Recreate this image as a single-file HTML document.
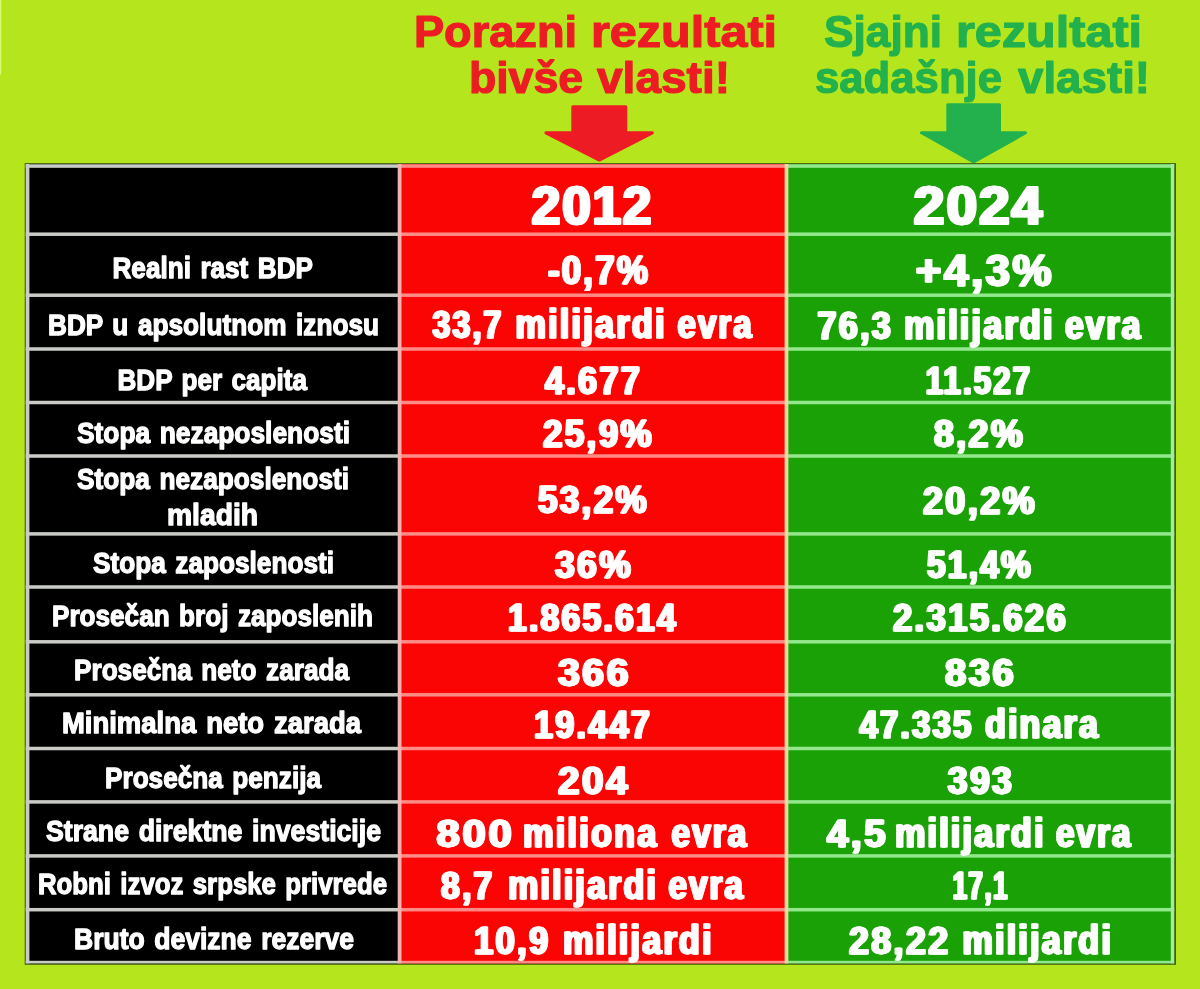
<!DOCTYPE html>
<html lang="sr">
<head>
<meta charset="utf-8">
<title>Rezultati 2012 / 2024</title>
<style>
html,body{margin:0;padding:0;background:#B5E61D;}
body{width:1200px;height:989px;overflow:hidden;}
svg{display:block;filter:blur(0.55px);}
.lbl{font-family:"Liberation Sans", sans-serif;font-weight:bold;word-spacing:2.5px;fill:#fff;stroke:#fff;stroke-width:1.3px;stroke-linejoin:round;}
.dat{font-family:"Liberation Sans", sans-serif;font-weight:bold;letter-spacing:2.6px;word-spacing:-3px;fill:#fff;stroke:#fff;stroke-width:0.8px;stroke-linejoin:round;}
.hdr{font-family:"Liberation Sans", sans-serif;font-weight:bold;letter-spacing:2px;fill:#fff;stroke:#fff;stroke-width:1.7px;stroke-linejoin:round;}
.ttl{font-family:"Liberation Sans", sans-serif;font-weight:bold;stroke-width:1.2px;stroke-linejoin:round;}
.r{fill:#ED1C24;stroke:#ED1C24;}
.g{fill:#22B14C;stroke:#22B14C;}
</style>
</head>
<body>
<svg width="1200" height="989" viewBox="0 0 1200 989">
<defs>
<filter id="fx" filterUnits="userSpaceOnUse" x="0" y="0" width="1200" height="989"><feOffset in="SourceGraphic" dx="0.7" result="a"/><feOffset in="SourceGraphic" dx="-0.7" result="b"/><feMerge><feMergeNode in="a"/><feMergeNode in="b"/><feMergeNode in="SourceGraphic"/></feMerge></filter>
<filter id="fx2" filterUnits="userSpaceOnUse" x="0" y="0" width="1200" height="989"><feOffset in="SourceGraphic" dx="0.8" result="a"/><feOffset in="SourceGraphic" dx="-0.8" result="b"/><feMerge><feMergeNode in="a"/><feMergeNode in="b"/><feMergeNode in="SourceGraphic"/></feMerge></filter>
</defs>
<rect x="0" y="0" width="1200" height="989" fill="#B5E61D"/>
<rect x="0" y="0" width="1.2" height="74.5" fill="#dcfb72"/>
<polygon points="572.8,106.8 625.8,106.8 625.8,132.8 652.4,132.8 599.3,160.1 545.9,132.8 572.8,132.8" fill="#ED1C24" stroke="#ED1C24" stroke-width="3.0" stroke-linejoin="round"/>
<polygon points="947.8,104.8 999.5,104.8 999.5,132.8 1025.6,132.8 973.6,161.9 921.5,132.8 947.8,132.8" fill="#22B14C" stroke="#22B14C" stroke-width="3.0" stroke-linejoin="round"/>
<rect x="24.7" y="163.1" width="1151.3" height="801.7" fill="#435f10"/>
<rect x="25.7" y="164.0" width="373.9" height="799.4" fill="#000"/>
<rect x="399.6" y="164.0" width="386.9" height="799.4" fill="#FB0404"/>
<rect x="786.5" y="164.0" width="387.7" height="799.4" fill="#1AA105"/>
<rect x="25.7" y="164.30" width="373.9" height="3.5" fill="#c9ccc6"/>
<rect x="399.6" y="164.30" width="386.9" height="3.5" fill="#ff8a86"/>
<rect x="786.5" y="164.30" width="387.7" height="3.5" fill="#93e78d"/>
<rect x="25.7" y="232.45" width="373.9" height="3.5" fill="#c9ccc6"/>
<rect x="399.6" y="232.45" width="386.9" height="3.5" fill="#ff8a86"/>
<rect x="786.5" y="232.45" width="387.7" height="3.5" fill="#93e78d"/>
<rect x="25.7" y="293.45" width="373.9" height="3.5" fill="#c9ccc6"/>
<rect x="399.6" y="293.45" width="386.9" height="3.5" fill="#ff8a86"/>
<rect x="786.5" y="293.45" width="387.7" height="3.5" fill="#93e78d"/>
<rect x="25.7" y="347.25" width="373.9" height="3.5" fill="#c9ccc6"/>
<rect x="399.6" y="347.25" width="386.9" height="3.5" fill="#ff8a86"/>
<rect x="786.5" y="347.25" width="387.7" height="3.5" fill="#93e78d"/>
<rect x="25.7" y="400.75" width="373.9" height="3.5" fill="#c9ccc6"/>
<rect x="399.6" y="400.75" width="386.9" height="3.5" fill="#ff8a86"/>
<rect x="786.5" y="400.75" width="387.7" height="3.5" fill="#93e78d"/>
<rect x="25.7" y="454.25" width="373.9" height="3.5" fill="#c9ccc6"/>
<rect x="399.6" y="454.25" width="386.9" height="3.5" fill="#ff8a86"/>
<rect x="786.5" y="454.25" width="387.7" height="3.5" fill="#93e78d"/>
<rect x="25.7" y="532.15" width="373.9" height="3.5" fill="#c9ccc6"/>
<rect x="399.6" y="532.15" width="386.9" height="3.5" fill="#ff8a86"/>
<rect x="786.5" y="532.15" width="387.7" height="3.5" fill="#93e78d"/>
<rect x="25.7" y="585.25" width="373.9" height="3.5" fill="#c9ccc6"/>
<rect x="399.6" y="585.25" width="386.9" height="3.5" fill="#ff8a86"/>
<rect x="786.5" y="585.25" width="387.7" height="3.5" fill="#93e78d"/>
<rect x="25.7" y="640.05" width="373.9" height="3.5" fill="#c9ccc6"/>
<rect x="399.6" y="640.05" width="386.9" height="3.5" fill="#ff8a86"/>
<rect x="786.5" y="640.05" width="387.7" height="3.5" fill="#93e78d"/>
<rect x="25.7" y="693.05" width="373.9" height="3.5" fill="#c9ccc6"/>
<rect x="399.6" y="693.05" width="386.9" height="3.5" fill="#ff8a86"/>
<rect x="786.5" y="693.05" width="387.7" height="3.5" fill="#93e78d"/>
<rect x="25.7" y="746.75" width="373.9" height="3.5" fill="#c9ccc6"/>
<rect x="399.6" y="746.75" width="386.9" height="3.5" fill="#ff8a86"/>
<rect x="786.5" y="746.75" width="387.7" height="3.5" fill="#93e78d"/>
<rect x="25.7" y="800.15" width="373.9" height="3.5" fill="#c9ccc6"/>
<rect x="399.6" y="800.15" width="386.9" height="3.5" fill="#ff8a86"/>
<rect x="786.5" y="800.15" width="387.7" height="3.5" fill="#93e78d"/>
<rect x="25.7" y="854.15" width="373.9" height="3.5" fill="#c9ccc6"/>
<rect x="399.6" y="854.15" width="386.9" height="3.5" fill="#ff8a86"/>
<rect x="786.5" y="854.15" width="387.7" height="3.5" fill="#93e78d"/>
<rect x="25.7" y="907.95" width="373.9" height="3.5" fill="#c9ccc6"/>
<rect x="399.6" y="907.95" width="386.9" height="3.5" fill="#ff8a86"/>
<rect x="786.5" y="907.95" width="387.7" height="3.5" fill="#93e78d"/>
<rect x="25.7" y="960.8" width="373.9" height="2.6" fill="#c9ccc6"/>
<rect x="399.6" y="960.8" width="386.9" height="2.6" fill="#ff8a86"/>
<rect x="786.5" y="960.8" width="387.7" height="2.6" fill="#93e78d"/>
<rect x="25.7" y="164.0" width="3.7" height="799.4" fill="#c9ccc6"/>
<rect x="397.7" y="164.0" width="3.8" height="799.4" fill="#f0b4b0"/>
<rect x="784.6" y="164.0" width="3.8" height="799.4" fill="#eed9a0"/>
<rect x="1170.8" y="164.0" width="3.4" height="799.4" fill="#a6e9a0"/>
<g>
<text class="ttl r" y="46.90" font-size="44.7"><tspan x="413.92" textLength="163.15" lengthAdjust="spacingAndGlyphs">Porazni</tspan> <tspan x="590.91" textLength="186.20" lengthAdjust="spacingAndGlyphs">rezultati</tspan></text>
<text class="ttl r" y="93.30" font-size="44.7"><tspan x="468.91" textLength="114.13" lengthAdjust="spacingAndGlyphs">bivše</tspan> <tspan x="596.98" textLength="133.13" lengthAdjust="spacingAndGlyphs">vlasti!</tspan></text>
<text class="ttl g" y="47.20" font-size="44.7"><tspan x="823.96" textLength="118.07" lengthAdjust="spacingAndGlyphs">Sjajni</tspan> <tspan x="955.91" textLength="186.17" lengthAdjust="spacingAndGlyphs">rezultati</tspan></text>
<text class="ttl g" y="92.50" font-size="44.7"><tspan x="814.97" textLength="187.05" lengthAdjust="spacingAndGlyphs">sadašnje</tspan> <tspan x="1017.98" textLength="132.12" lengthAdjust="spacingAndGlyphs">vlasti!</tspan></text>
</g>
<g>
<text class="lbl" x="112.48" y="278.00" font-size="29.3" textLength="200.53" lengthAdjust="spacingAndGlyphs">Realni rast BDP</text>
<text class="lbl" x="47.96" y="334.50" font-size="29.3" textLength="331.07" lengthAdjust="spacingAndGlyphs">BDP u apsolutnom iznosu</text>
<text class="lbl" x="117.48" y="389.50" font-size="29.3" textLength="189.53" lengthAdjust="spacingAndGlyphs">BDP per capita</text>
<text class="lbl" x="76.99" y="443.25" font-size="29.3" textLength="273.02" lengthAdjust="spacingAndGlyphs">Stopa nezaposlenosti</text>
<text class="lbl" font-size="29.3"><tspan x="76.98" y="489.00" textLength="272.04" lengthAdjust="spacingAndGlyphs">Stopa nezaposlenosti</tspan> <tspan x="166.93" y="525.00" textLength="91.13" lengthAdjust="spacingAndGlyphs">mladih</tspan></text>
<text class="lbl" x="92.99" y="572.70" font-size="29.3" textLength="241.03" lengthAdjust="spacingAndGlyphs">Stopa zaposlenosti</text>
<text class="lbl" x="51.97" y="626.00" font-size="29.3" textLength="321.05" lengthAdjust="spacingAndGlyphs">Prosečan broj zaposlenih</text>
<text class="lbl" x="74.00" y="680.00" font-size="29.3" textLength="275.00" lengthAdjust="spacingAndGlyphs">Prosečna neto zarada</text>
<text class="lbl" x="61.98" y="733.30" font-size="29.3" textLength="299.04" lengthAdjust="spacingAndGlyphs">Minimalna neto zarada</text>
<text class="lbl" x="105.00" y="787.70" font-size="29.3" textLength="216.01" lengthAdjust="spacingAndGlyphs">Prosečna penzija</text>
<text class="lbl" x="46.00" y="841.00" font-size="29.3" textLength="335.02" lengthAdjust="spacingAndGlyphs">Strane direktne investicije</text>
<text class="lbl" x="37.98" y="894.00" font-size="29.3" textLength="349.04" lengthAdjust="spacingAndGlyphs">Robni izvoz srpske privrede</text>
<text class="lbl" x="73.99" y="949.30" font-size="29.3" textLength="280.02" lengthAdjust="spacingAndGlyphs">Bruto devizne rezerve</text>
</g>
<g filter="url(#fx2)">
<text class="hdr" x="531.81" y="224.20" font-size="54.5" textLength="121.40" lengthAdjust="spacingAndGlyphs">2012</text>
<text class="hdr" x="913.86" y="224.20" font-size="54.5" textLength="130.28" lengthAdjust="spacingAndGlyphs">2024</text>
</g>
<g filter="url(#fx)">
<text class="dat" x="547.93" y="284.30" font-size="40" textLength="102.16" lengthAdjust="spacingAndGlyphs">-0,7%</text>
<text class="dat" y="338.30" font-size="38.2"><tspan x="432.50" textLength="71.03" lengthAdjust="spacingAndGlyphs">33,7</tspan> <tspan x="515.46" textLength="151.15" lengthAdjust="spacingAndGlyphs" font-size="40.5">milijardi</tspan> <tspan x="677.50" textLength="76.02" lengthAdjust="spacingAndGlyphs" font-size="40.5">evra</tspan></text>
<text class="dat" x="544.95" y="394.10" font-size="38.2" textLength="97.15" lengthAdjust="spacingAndGlyphs">4.677</text>
<text class="dat" x="542.92" y="447.10" font-size="38.2" textLength="111.17" lengthAdjust="spacingAndGlyphs">25,9%</text>
<text class="dat" x="537.93" y="513.30" font-size="38.2" textLength="111.13" lengthAdjust="spacingAndGlyphs">53,2%</text>
<text class="dat" x="554.96" y="578.30" font-size="38.2" textLength="78.15" lengthAdjust="spacingAndGlyphs">36%</text>
<text class="dat" x="507.95" y="630.60" font-size="38.2" textLength="170.10" lengthAdjust="spacingAndGlyphs">1.865.614</text>
<text class="dat" x="557.91" y="685.60" font-size="38.2" textLength="73.24" lengthAdjust="spacingAndGlyphs">366</text>
<text class="dat" x="533.88" y="738.30" font-size="38.2" textLength="118.29" lengthAdjust="spacingAndGlyphs">19.447</text>
<text class="dat" x="557.92" y="793.90" font-size="38.2" textLength="72.26" lengthAdjust="spacingAndGlyphs">204</text>
<text class="dat" y="846.60" font-size="38.2"><tspan x="436.49" textLength="78.12" lengthAdjust="spacingAndGlyphs">800</tspan> <tspan x="522.99" textLength="135.51" lengthAdjust="spacingAndGlyphs" font-size="40.5">miliona</tspan> <tspan x="671.50" textLength="77.01" lengthAdjust="spacingAndGlyphs" font-size="40.5">evra</tspan></text>
<text class="dat" y="898.90" font-size="38.2"><tspan x="441.03" textLength="53.57" lengthAdjust="spacingAndGlyphs">8,7</tspan> <tspan x="507.97" textLength="150.12" lengthAdjust="spacingAndGlyphs" font-size="40.5">milijardi</tspan> <tspan x="668.50" textLength="76.51" lengthAdjust="spacingAndGlyphs" font-size="40.5">evra</tspan></text>
<text class="dat" y="953.80" font-size="38.2"><tspan x="473.95" textLength="76.66" lengthAdjust="spacingAndGlyphs">10,9</tspan> <tspan x="562.98" textLength="150.60" lengthAdjust="spacingAndGlyphs" font-size="40.5">milijardi</tspan></text>
<text class="dat" x="915.85" y="285.60" font-size="45" textLength="138.23" lengthAdjust="spacingAndGlyphs">+4,3%</text>
<text class="dat" y="338.90" font-size="38.2"><tspan x="817.51" textLength="75.55" lengthAdjust="spacingAndGlyphs">76,3</tspan> <tspan x="903.97" textLength="150.60" lengthAdjust="spacingAndGlyphs" font-size="40.5">milijardi</tspan> <tspan x="1065.00" textLength="77.51" lengthAdjust="spacingAndGlyphs" font-size="40.5">evra</tspan></text>
<text class="dat" x="925.83" y="393.90" font-size="38.2" textLength="106.29" lengthAdjust="spacingAndGlyphs">11.527</text>
<text class="dat" x="933.96" y="446.60" font-size="38.2" textLength="91.16" lengthAdjust="spacingAndGlyphs">8,2%</text>
<text class="dat" x="922.90" y="513.90" font-size="38.2" textLength="114.15" lengthAdjust="spacingAndGlyphs">20,2%</text>
<text class="dat" x="926.92" y="578.30" font-size="38.2" textLength="106.15" lengthAdjust="spacingAndGlyphs">51,4%</text>
<text class="dat" x="892.93" y="630.60" font-size="38.2" textLength="175.13" lengthAdjust="spacingAndGlyphs">2.315.626</text>
<text class="dat" x="944.89" y="685.60" font-size="38.2" textLength="71.31" lengthAdjust="spacingAndGlyphs">836</text>
<text class="dat" y="738.30" font-size="38.2"><tspan x="859.50" textLength="114.01" lengthAdjust="spacingAndGlyphs">47.335</tspan> <tspan x="985.00" textLength="115.00" lengthAdjust="spacingAndGlyphs" font-size="40.5">dinara</tspan></text>
<text class="dat" x="947.80" y="793.90" font-size="38.2" textLength="66.42" lengthAdjust="spacingAndGlyphs">393</text>
<text class="dat" y="846.60" font-size="38.2"><tspan x="827.02" textLength="61.02" lengthAdjust="spacingAndGlyphs">4,5</tspan> <tspan x="894.96" textLength="150.64" lengthAdjust="spacingAndGlyphs" font-size="40.5">milijardi</tspan> <tspan x="1055.99" textLength="76.52" lengthAdjust="spacingAndGlyphs" font-size="40.5">evra</tspan></text>
<text class="dat" x="952.75" y="898.90" font-size="38.2" textLength="56.42" lengthAdjust="spacingAndGlyphs">17,1</text>
<text class="dat" y="953.80" font-size="38.2"><tspan x="849.00" textLength="101.56" lengthAdjust="spacingAndGlyphs">28,22</tspan> <tspan x="962.48" textLength="150.60" lengthAdjust="spacingAndGlyphs" font-size="40.5">milijardi</tspan></text>
</g>
</svg>
</body>
</html>
